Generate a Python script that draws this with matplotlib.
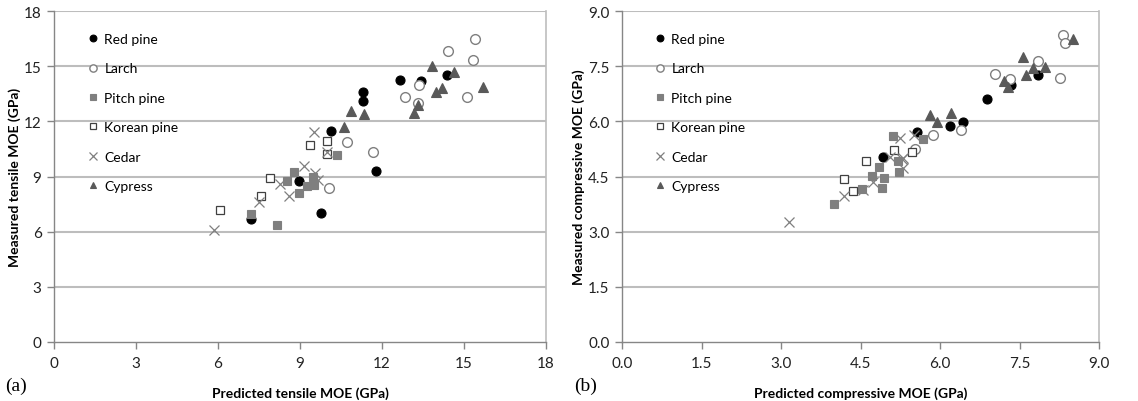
import matplotlib
matplotlib.use("Agg")
import matplotlib.pyplot as plt

# ---------------- data: (a) tensile ----------------
ta_redpine_x = [7.2, 8.95, 9.76, 10.15, 11.32, 11.32, 11.77, 12.66, 13.42, 14.39]
ta_redpine_y = [6.71, 8.75, 7.04, 11.47, 13.58, 13.11, 9.29, 14.26, 14.17, 14.53]
ta_larch_x = [10.07, 10.71, 11.68, 12.84, 13.33, 13.37, 14.4, 15.12, 15.34, 15.4]
ta_larch_y = [8.35, 10.89, 10.31, 13.3, 13.02, 13.98, 15.8, 13.31, 15.35, 16.5]
ta_pitch_x = [7.21, 8.17, 8.54, 8.79, 8.96, 9.27, 9.49, 9.53, 10.34]
ta_pitch_y = [6.98, 6.38, 8.75, 9.26, 8.11, 8.49, 8.98, 8.53, 10.16]
ta_korean_x = [6.07, 7.56, 7.9, 9.37, 9.98, 9.98]
ta_korean_y = [7.2, 7.95, 8.93, 10.71, 10.93, 10.22]
ta_cedar_x = [5.87, 7.5, 8.27, 8.61, 9.16, 9.53, 9.55, 9.67, 10.0]
ta_cedar_y = [6.07, 7.62, 8.58, 7.93, 9.56, 11.4, 9.17, 8.8, 10.35]
ta_cypress_x = [10.61, 10.86, 11.34, 13.17, 13.33, 13.84, 13.97, 14.21, 14.64, 15.69]
ta_cypress_y = [11.71, 12.56, 12.4, 12.44, 12.9, 14.99, 13.62, 13.8, 14.67, 13.86]

# ---------------- data: (b) compressive ----------------
cb_redpine_x = [4.93, 5.56, 6.19, 6.44, 6.89, 7.34, 7.85]
cb_redpine_y = [5.02, 5.72, 5.87, 5.99, 6.61, 7.0, 7.25]
cb_larch_x = [5.53, 5.87, 6.39, 7.03, 7.32, 7.85, 8.26, 8.32, 8.35]
cb_larch_y = [5.26, 5.63, 5.76, 7.28, 7.14, 7.63, 7.19, 8.34, 8.13]
cb_pitch_x = [4.0, 4.52, 4.71, 4.85, 4.9, 4.95, 5.11, 5.21, 5.23, 5.67]
cb_pitch_y = [3.74, 4.17, 4.52, 4.76, 4.19, 4.47, 5.6, 4.93, 4.63, 5.51]
cb_korean_x = [4.19, 4.36, 4.6, 5.14, 5.47]
cb_korean_y = [4.43, 4.11, 4.92, 5.22, 5.17]
cb_cedar_x = [3.15, 4.18, 4.55, 4.74, 5.06, 5.25, 5.28, 5.31, 5.31, 5.5]
cb_cedar_y = [3.25, 3.97, 4.13, 4.34, 5.02, 5.54, 4.97, 4.74, 4.99, 5.63]
cb_cypress_x = [5.81, 5.95, 6.2, 7.21, 7.28, 7.56, 7.63, 7.75, 7.99, 8.5]
cb_cypress_y = [6.17, 5.99, 6.22, 7.11, 6.94, 7.76, 7.25, 7.45, 7.49, 8.24]

species = ["Red pine", "Larch", "Pitch pine", "Korean pine", "Cedar", "Cypress"]
ticks_a = [0, 3, 6, 9, 12, 15, 18]
ticks_b = [0.0, 1.5, 3.0, 4.5, 6.0, 7.5, 9.0]

styles = {
    "Red pine": dict(marker="o", ms=6.5, mfc="black", mec="black", mew=0.8),
    "Larch": dict(marker="o", ms=7, mfc="white", mec="#7f7f7f", mew=1.0),
    "Pitch pine": dict(marker="s", ms=6, mfc="#7f7f7f", mec="#7f7f7f", mew=0.8),
    "Korean pine": dict(marker="s", ms=6, mfc="white", mec="#404040", mew=0.9),
    "Cedar": dict(marker="x", ms=7.5, mfc="none", mec="#7f7f7f", mew=0.9),
    "Cypress": dict(marker="^", ms=6.5, mfc="#595959", mec="#595959", mew=0.8),
}

plt.rcParams['font.family'] = ['Lato', 'DejaVu Sans']

fig = plt.figure(figsize=(11.38, 4.02), dpi=100)
axA = fig.add_axes([54/1138, 59/402, 492/1138, 331/402])
axB = fig.add_axes([622/1138, 59/402, 477/1138, 331/402])

dataA = [(ta_redpine_x, ta_redpine_y), (ta_larch_x, ta_larch_y), (ta_pitch_x, ta_pitch_y),
         (ta_korean_x, ta_korean_y), (ta_cedar_x, ta_cedar_y), (ta_cypress_x, ta_cypress_y)]
dataB = [(cb_redpine_x, cb_redpine_y), (cb_larch_x, cb_larch_y), (cb_pitch_x, cb_pitch_y),
         (cb_korean_x, cb_korean_y), (cb_cedar_x, cb_cedar_y), (cb_cypress_x, cb_cypress_y)]


def setup(ax, data, ticks, fmt, xlabel, ylabel, lx):
    for name, (xs, ys) in zip(species, data):
        ax.plot(xs, ys, linestyle="none", label=name, zorder=3, **styles[name])
    ax.set_xlim(ticks[0], ticks[-1])
    ax.set_ylim(ticks[0], ticks[-1])
    ax.set_xticks(ticks)
    ax.set_yticks(ticks)
    ax.set_xticklabels([fmt(t) for t in ticks])
    ax.set_yticklabels([fmt(t) for t in ticks])
    for t in ticks[1:]:
        ax.axhline(t, color="#bdbdbd", lw=1.5, zorder=1)
    for s in ["left", "bottom"]:
        ax.spines[s].set_color("#868686")
        ax.spines[s].set_linewidth(1.0)
    ax.spines["right"].set_color("#bdbdbd")
    ax.spines["right"].set_linewidth(1.2)
    ax.spines["top"].set_visible(False)
    ax.tick_params(axis="both", direction="out", length=5, width=1.0, color="#868686",
                   labelsize=11, colors="#222222", pad=4)
    ax.tick_params(axis="x", pad=5)
    ax.set_xlabel(xlabel, fontsize=10, fontweight="bold", labelpad=12)
    ax.set_ylabel(ylabel, fontsize=10, fontweight="bold", labelpad=2)
    leg = ax.legend(loc="upper left", bbox_to_anchor=(lx, 0.95), frameon=False,
                    fontsize=10, handlelength=0.6, handletextpad=0.5,
                    labelspacing=1.25, borderaxespad=0, markerscale=0.75)
    return leg


setup(axA, dataA, ticks_a, lambda t: f"{int(t)}", "Predicted tensile MOE (GPa)",
      "Measured tensile MOE (GPa)", 0.06)
setup(axB, dataB, ticks_b, lambda t: f"{t:.1f}", "Predicted compressive MOE (GPa)",
      "Measured compressive MOE (GPa)", 0.06)

fig.text(5/1138, 1 - 386/402, "(a)", family="Liberation Serif", fontsize=14, va="center")
fig.text(574/1138, 1 - 386/402, "(b)", family="Liberation Serif", fontsize=14, va="center")

fig.savefig("out.png", dpi=100)
